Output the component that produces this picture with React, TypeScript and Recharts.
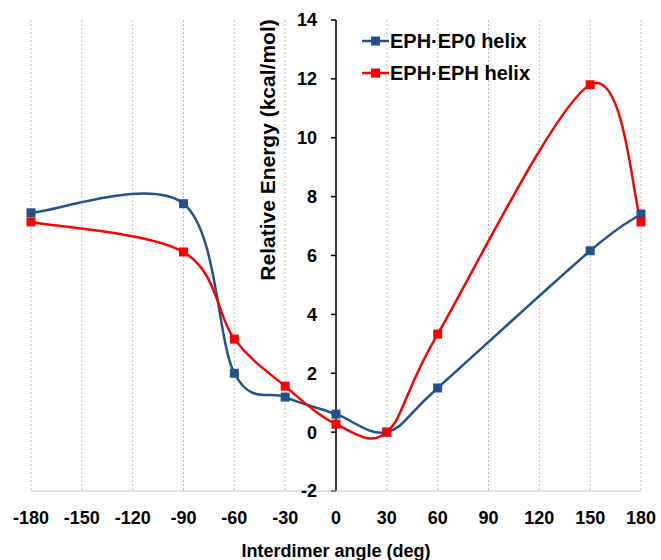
import { CartesianGrid, Line, LineChart, ReferenceLine, XAxis, YAxis } from "recharts";

const FONT = "'Liberation Sans', Arial, sans-serif";

const xTicks = [-180, -150, -120, -90, -60, -30, 0, 30, 60, 90, 120, 150, 180];
const yTicks = [-2, 0, 2, 4, 6, 8, 10, 12, 14];

const angles = [-180, -90, -60, -30, 0, 30, 60, 150, 180];
const ep0Energy = [7.45, 7.76, 2.0, 1.19, 0.61, 0.0, 1.5, 6.16, 7.41];
const ephEnergy = [7.14, 6.12, 3.16, 1.56, 0.27, 0.0, 3.33, 11.8, 7.14];

const series = [
  { name: "EPH·EP0 helix", color: "#24508c", values: ep0Energy },
  { name: "EPH·EPH helix", color: "#ff0000", values: ephEnergy }
];

// smoothed line like a spreadsheet "smoothed line": Catmull-Rom through each point
function smoothCurve(context: any) {
  let pts: [number, number][] = [];
  return {
    areaStart() {},
    areaEnd() {},
    lineStart() {
      pts = [];
    },
    point(x: number, y: number) {
      pts.push([+x, +y]);
    },
    lineEnd() {
      if (!pts.length) return;
      context.moveTo(pts[0][0], pts[0][1]);
      for (let i = 0; i < pts.length - 1; i++) {
        const p0 = pts[Math.max(i - 1, 0)];
        const p1 = pts[i];
        const p2 = pts[i + 1];
        const p3 = pts[Math.min(i + 2, pts.length - 1)];
        context.bezierCurveTo(
          p1[0] + (p2[0] - p0[0]) / 6,
          p1[1] + (p2[1] - p0[1]) / 6,
          p2[0] - (p3[0] - p1[0]) / 6,
          p2[1] - (p3[1] - p1[1]) / 6,
          p2[0],
          p2[1]
        );
      }
    }
  };
}

const squareDot = (color: string) => (p: any) => (
  <rect key={`d-${p.index}`} x={p.cx - 4.5} y={p.cy - 4.5} width={9} height={9} fill={color} />
);

export default function App() {
  const lines = series.map((s) => ({
    ...s,
    data: angles.map((angle, i) => ({ angle, energy: s.values[i] }))
  }));

  return (
    <div style={{ position: "absolute", left: 0, top: 0, width: 661, height: 560, fontFamily: FONT, background: "#fff" }}>
      <LineChart width={661} height={560} margin={{ top: 20, right: 20, left: 31, bottom: 0 }}>
        <CartesianGrid horizontal={false} stroke="#bfbfbf" strokeDasharray="2 2" />
        <XAxis
          dataKey="angle"
          type="number"
          domain={[-180, 180]}
          ticks={xTicks}
          interval={0}
          height={69}
          stroke="#bfbfbf"
          tickLine={false}
          tickMargin={14}
          tick={{ fill: "#000", fontSize: 18, fontWeight: "bold", fontFamily: FONT }}
          label={{ value: "Interdimer angle (deg)", position: "insideBottom", offset: 3, fill: "#000", fontSize: 18, fontWeight: "bold", fontFamily: FONT }}
        />
        <YAxis hide type="number" domain={[-2, 14]} ticks={yTicks} />
        <ReferenceLine x={0} stroke="#000" strokeWidth={1.5} />
        {yTicks.map((v) => (
          <ReferenceLine
            key={v}
            segment={[{ x: -3, y: v }, { x: 0, y: v }]}
            stroke="#000"
            strokeWidth={1.5}
            label={{ value: String(v), position: "left", offset: 14, fill: "#000", fontSize: 18, fontWeight: "bold", fontFamily: FONT }}
          />
        ))}
        {lines.map((s) => (
          <Line
            key={s.name}
            data={s.data}
            dataKey="energy"
            name={s.name}
            type={smoothCurve as any}
            stroke={s.color}
            strokeWidth={2.5}
            dot={squareDot(s.color)}
            activeDot={false}
            isAnimationActive={false}
          />
        ))}
      </LineChart>

      <div
        style={{
          position: "absolute",
          left: 268,
          top: 150,
          transform: "translate(-50%, -50%) rotate(-90deg)",
          whiteSpace: "nowrap",
          fontSize: 21,
          fontWeight: "bold"
        }}
      >
        Relative Energy (kcal/mol)
      </div>

      <div style={{ position: "absolute", left: 362, top: 25 }}>
        {series.map((s) => (
          <div key={s.name} style={{ display: "flex", alignItems: "center", height: 32, fontSize: 20, fontWeight: "bold" }}>
            <svg width={28} height={12}>
              <line x1={0} y1={6} x2={27} y2={6} stroke={s.color} strokeWidth={2.5} />
              <rect x={9} y={1.5} width={9} height={9} fill={s.color} />
            </svg>
            <span>{s.name}</span>
          </div>
        ))}
      </div>
    </div>
  );
}
